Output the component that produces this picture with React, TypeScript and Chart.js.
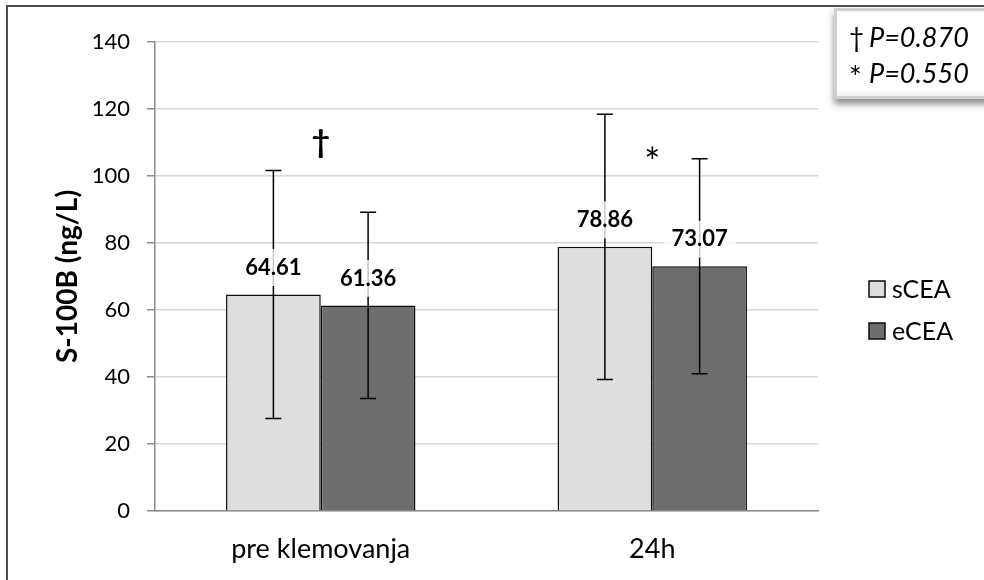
import React, { useEffect, useRef } from "react";
import { Chart, registerables } from "chart.js";

Chart.register(...registerables);

// ---- data ----
const categories = ["pre klemovanja", "24h"];
const seriesNames = ["sCEA", "eCEA"];
const sceaValues = [64.61, 78.86];
const eceaValues = [61.36, 73.07];
const sceaSD = [37.0, 39.6];
const eceaSD = [27.8, 32.1];
const seriesColors = ["#dedede", "#6e6e6e"];
const yTicks = [0, 20, 40, 60, 80, 100, 120, 140];
const markLabels = ["†", "*"];
const markValues = [106.5, 107];
const pSymbols = ["†", "*"];
const pTexts = ["P=0.870", "P=0.550"];
const yTitle = "S-100B (ng/L)";

const FONT = "Lato";

const sdList = [sceaSD, eceaSD];

const overlayPlugin = {
  id: "overlay",
  afterDatasetsDraw(chart: any) {
    const ctx = chart.ctx as CanvasRenderingContext2D;
    const yScale = chart.scales.y;
    const xScale = chart.scales.x;
    ctx.save();
    // error bars
    chart.data.datasets.forEach((ds: any, di: number) => {
      const meta = chart.getDatasetMeta(di);
      meta.data.forEach((el: any, j: number) => {
        const v = ds.data[j];
        const sd = sdList[di][j];
        const x = el.x;
        const yt = yScale.getPixelForValue(v + sd);
        const yb = yScale.getPixelForValue(v - sd);
        ctx.strokeStyle = "#000";
        ctx.lineWidth = 1.5;
        ctx.beginPath();
        ctx.moveTo(x, yt);
        ctx.lineTo(x, yb);
        ctx.moveTo(x - 8, yt);
        ctx.lineTo(x + 8, yt);
        ctx.moveTo(x - 8, yb);
        ctx.lineTo(x + 8, yb);
        ctx.stroke();
      });
    });
    // data labels
    chart.data.datasets.forEach((ds: any, di: number) => {
      const meta = chart.getDatasetMeta(di);
      meta.data.forEach((el: any, j: number) => {
        const txt = Number(ds.data[j]).toFixed(2);
        ctx.font = `bold 22px ${FONT}`;
        const w = ctx.measureText(txt).width;
        const cy = el.y - 27;
        ctx.fillStyle = "rgba(255,255,255,0.78)";
        ctx.fillRect(el.x - w / 2 - 8, cy - 18.5, w + 16, 37);
        ctx.fillStyle = "#000";
        ctx.textAlign = "center";
        ctx.textBaseline = "middle";
        ctx.fillText(txt, el.x, cy);
      });
    });
    // significance marks
    markLabels.forEach((m, i) => {
      const x = xScale.getPixelForValue(i);
      const cy = yScale.getPixelForValue(markValues[i]);
      ctx.font = m === "†" ? `bold 32px ${FONT}` : `38px ${FONT}`;
      const mt = ctx.measureText(m);
      const asc = mt.actualBoundingBoxAscent;
      const desc = mt.actualBoundingBoxDescent;
      ctx.textAlign = "center";
      ctx.textBaseline = "alphabetic";
      ctx.fillStyle = "#000";
      ctx.fillText(m, x, cy + (asc - desc) / 2);
    });
    // legend
    seriesNames.forEach((name, i) => {
      const cy = 289 + i * 42;
      ctx.fillStyle = seriesColors[i];
      ctx.fillRect(869, cy - 8, 16, 16);
      ctx.strokeStyle = "#0d0d0d";
      ctx.lineWidth = 1.5;
      ctx.strokeRect(869, cy - 8, 16, 16);
      ctx.fillStyle = "#000";
      ctx.font = `25px ${FONT}`;
      ctx.textAlign = "left";
      ctx.textBaseline = "middle";
      ctx.fillText(name, 892, cy + 1);
    });
    // p-value box
    ctx.save();
    ctx.shadowColor = "rgba(0,0,0,0.45)";
    ctx.shadowBlur = 7;
    ctx.shadowOffsetY = 5;
    ctx.fillStyle = "#cfcfcf";
    ctx.fillRect(834, 8, 170, 91);
    ctx.restore();
    const g = ctx.createLinearGradient(0, 8, 0, 99);
    g.addColorStop(0, "#f4f4f4");
    g.addColorStop(0.1, "#ffffff");
    g.addColorStop(0.9, "#ffffff");
    g.addColorStop(1, "#ececec");
    ctx.fillStyle = g;
    ctx.fillRect(837, 11, 170, 85);
    pSymbols.forEach((s, i) => {
      const cy = 38 + i * 36;
      ctx.fillStyle = "#000";
      ctx.textBaseline = "middle";
      ctx.textAlign = "left";
      ctx.font = s === "*" ? `30px ${FONT}` : `26px ${FONT}`;
      ctx.fillText(s, 849, s === "*" ? cy + 4 : cy + 1);
      ctx.font = `italic 27px ${FONT}`;
      ctx.fillText(pTexts[i], 869, cy);
    });
    ctx.restore();
  },
};

export default function App() {
  const ref = useRef<HTMLCanvasElement>(null);
  useEffect(() => {
    const chart = new Chart(ref.current as HTMLCanvasElement, {
      type: "bar",
      data: {
        labels: categories,
        datasets: [
          {
            label: seriesNames[0],
            data: sceaValues,
            backgroundColor: seriesColors[0],
            borderColor: "#0d0d0d",
            borderWidth: 1.5,
            categoryPercentage: 0.5714,
            barPercentage: 1.0,
          },
          {
            label: seriesNames[1],
            data: eceaValues,
            backgroundColor: seriesColors[1],
            borderColor: "#0d0d0d",
            borderWidth: 1.5,
            categoryPercentage: 0.5714,
            barPercentage: 1.0,
          },
        ],
      },
      options: {
        responsive: false,
        animation: false,
        devicePixelRatio: 1,
        layout: { padding: { left: 0, top: 42, right: 166, bottom: 0 } },
        plugins: {
          legend: { display: false },
          tooltip: { enabled: false },
          title: { display: false },
        },
        scales: {
          x: {
            grid: { display: false, drawTicks: false },
            border: { display: true, color: "#8c8c8c", width: 1.5 },
            ticks: { font: { family: FONT, size: 27 }, color: "#000", padding: 22 },
            afterFit: (s: any) => {
              s.height = 69;
            },
          },
          y: {
            min: 0,
            max: 140,
            afterBuildTicks: (s: any) => {
              s.ticks = yTicks.map((v) => ({ value: v }));
            },
            ticks: { font: { family: FONT, size: 22 }, color: "#000", padding: 17 },
            grid: {
              color: "#d6d6d6",
              lineWidth: 1.5,
              tickLength: 8,
              tickColor: "#8c8c8c",
              drawTicks: true,
            },
            border: { color: "#8c8c8c", width: 1.5 },
            title: {
              display: true,
              text: yTitle,
              font: { family: FONT, size: 28, weight: "bold" },
              color: "#000",
              padding: { top: 51, bottom: 0 },
            },
            afterFit: (s: any) => {
              s.width = 155;
            },
          },
        },
      } as any,
      plugins: [overlayPlugin],
    });
    return () => chart.destroy();
  }, []);
  return (
    <div
      style={{
        position: "fixed",
        left: 0,
        top: 0,
        width: 984,
        height: 580,
        overflow: "hidden",
        background: "#fff",
      }}
    >
      <canvas
        ref={ref}
        width={984}
        height={580}
        style={{ position: "absolute", left: 0, top: 0, width: 984, height: 580 }}
      />
      <div
        style={{
          position: "absolute",
          left: 6,
          top: 5,
          width: 1100,
          height: 700,
          border: "2px solid #4d4d4d",
          boxSizing: "border-box",
          pointerEvents: "none",
        }}
      />
    </div>
  );
}
